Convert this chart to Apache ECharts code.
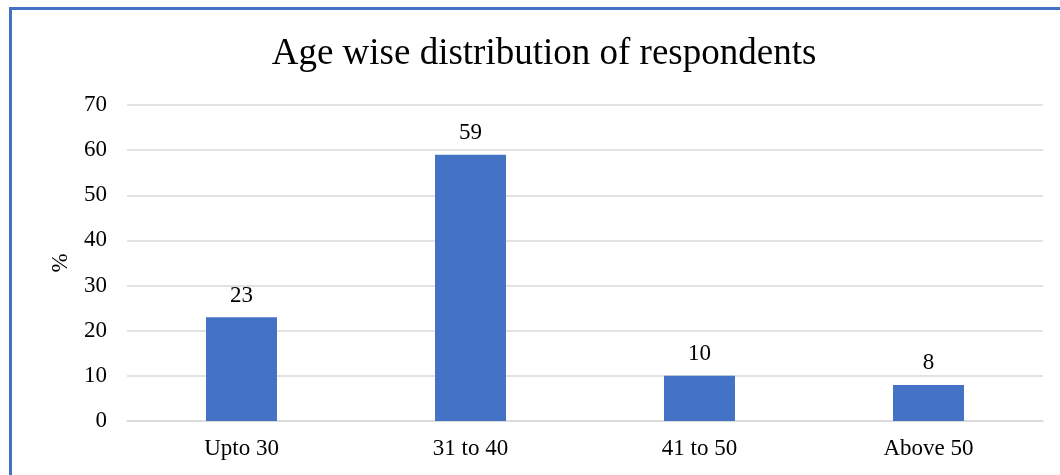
<!DOCTYPE html>
<html>
<head>
<meta charset="utf-8">
<script src="https://cdn.jsdelivr.net/npm/echarts@6/dist/echarts.min.js"></script>
<style>
  html, body { margin: 0; padding: 0; background: #fff; }
  #frame { position: absolute; left: 0; top: 0; width: 1060px; height: 475px; }
  #edgeTop { position: absolute; left: 9px; top: 7px; width: 1051px; height: 3px; background: #4472C4; }
  #edgeLeft { position: absolute; left: 9px; top: 7px; width: 3px; height: 468px; background: #4472C4; }
  #chart { position: absolute; left: 0; top: 0; width: 1060px; height: 475px; }
</style>
</head>
<body>
<div id="frame">
  <div id="chart"></div>
  <div id="edgeTop"></div>
  <div id="edgeLeft"></div>
</div>
<script>
const categories = ['Upto 30', '31 to 40', '41 to 50', 'Above 50'];
const shares = [23, 59, 10, 8];
const yTicks = { min: 0, max: 70, interval: 10 };

const serif = '"Liberation Serif", "Times New Roman", serif';
const chart = echarts.init(document.getElementById('chart'), null, { renderer: 'canvas' });
chart.setOption({
  animation: false,
  backgroundColor: '#ffffff',
  title: {
    text: 'Age wise distribution of respondents',
    left: 539, top: 31, textAlign: 'center',
    textStyle: { fontFamily: serif, fontSize: 37, fontWeight: 'normal', color: '#000' }
  },
  grid: { left: 127, right: 17, top: 105, bottom: 54 },
  xAxis: {
    type: 'category',
    data: categories,
    axisLine: { lineStyle: { color: '#d9d9d9', width: 1.5 } },
    axisTick: { show: false },
    axisLabel: { fontFamily: serif, fontSize: 23, color: '#000', margin: 16 }
  },
  yAxis: {
    type: 'value',
    min: yTicks.min, max: yTicks.max, interval: yTicks.interval,
    name: '%',
    nameLocation: 'middle',
    nameGap: 55,
    nameRotate: 90,
    nameTextStyle: { fontFamily: serif, fontSize: 23, color: '#000' },
    axisLine: { show: false },
    axisTick: { show: false },
    splitLine: { lineStyle: { color: '#d9d9d9', width: 1.5 } },
    axisLabel: { fontFamily: serif, fontSize: 23, color: '#000', margin: 20 }
  },
  series: [{
    type: 'bar',
    data: shares,
    barWidth: '31%',
    itemStyle: { color: '#4472C4' },
    label: {
      show: true, position: 'top', distance: 10,
      fontFamily: serif, fontSize: 23, color: '#000'
    }
  }]
});
</script>
</body>
</html>
